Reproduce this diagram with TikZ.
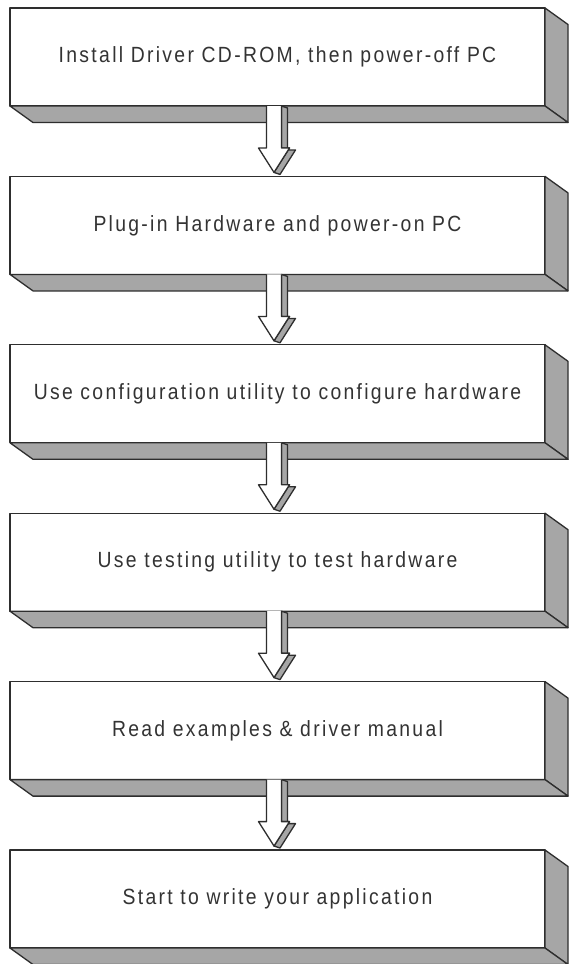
\documentclass[tikz,border=0pt]{standalone}
\usepackage{fontspec}
\usetikzlibrary{calc}
\newfontfamily\labfont[LetterSpace=10.5,FakeStretch=0.88]{Liberation Sans}
\definecolor{linec}{HTML}{2E2E2E}
\definecolor{shade}{HTML}{A6A6A6}
\definecolor{textc}{HTML}{333333}
\begin{document}
\begin{tikzpicture}[x=1pt,y=-1pt,
  front/.style={draw=linec, line width=1.3pt, line join=round, fill=white},
  side/.style={draw=linec, line width=1.3pt, line join=round, fill=shade},
  stepbox/.style={front, outer sep=0pt, inner sep=0pt, minimum width=535pt, minimum height=98pt,
    anchor=north west, text=textc, font=\labfont\fontsize{22}{26}\selectfont},
]
\useasboundingbox (0,0) rectangle (568,964);
\fill[white] (0,0) rectangle (568,964);

\foreach \i/\txt in {1/{Install Driver CD-ROM, then power-off PC},
                     2/{Plug-in Hardware and power-on PC},
                     3/{Use configuration utility to configure hardware},
                     4/{Use testing utility to test hardware},
                     5/{Read examples \& driver manual},
                     6/{Start to write your application}}{
  \pgfmathsetmacro{\ytop}{8+168.4*(\i-1)}
  \node[stepbox] (b\i) at (10,\ytop) {\txt};
  \draw[side] (b\i.north east) -- ++(23,16.5) -- ++(0,98) -- (b\i.south east) -- cycle;
  \draw[side] (b\i.south west) -- (b\i.south east) -- ++(23,16.5) -- ($(b\i.south west)+(23,16.5)$) -- cycle;
}

\foreach \i [evaluate=\i as \j using int(\i+1)] in {1,...,5}{
  \coordinate (a\i) at ($(b\i.south)+(-3.5,0)$);
  \draw[side] ($(a\i)+(7.5,0)$) -- ($(a\i)+(13.5,2)$) -- ($(a\i)+(13.5,44)$) -- ($(a\i)+(21.5,44)$)
     -- ($(a\i)+(6,68.4)$) -- ($(a\i)+(0,66.4)$) -- ($(a\i)+(15.5,42)$) -- ($(a\i)+(7.5,42)$) -- cycle;
  \draw[front] ($(a\i)+(-7.5,0)$) -- ($(a\i)+(-7.5,42)$) -- ($(a\i)+(-15.5,42)$) -- ($(a\i)+(0,66.4)$)
     -- ($(a\i)+(15.5,42)$) -- ($(a\i)+(7.5,42)$) -- ($(a\i)+(7.5,0)$);
}
\end{tikzpicture}
\end{document}
